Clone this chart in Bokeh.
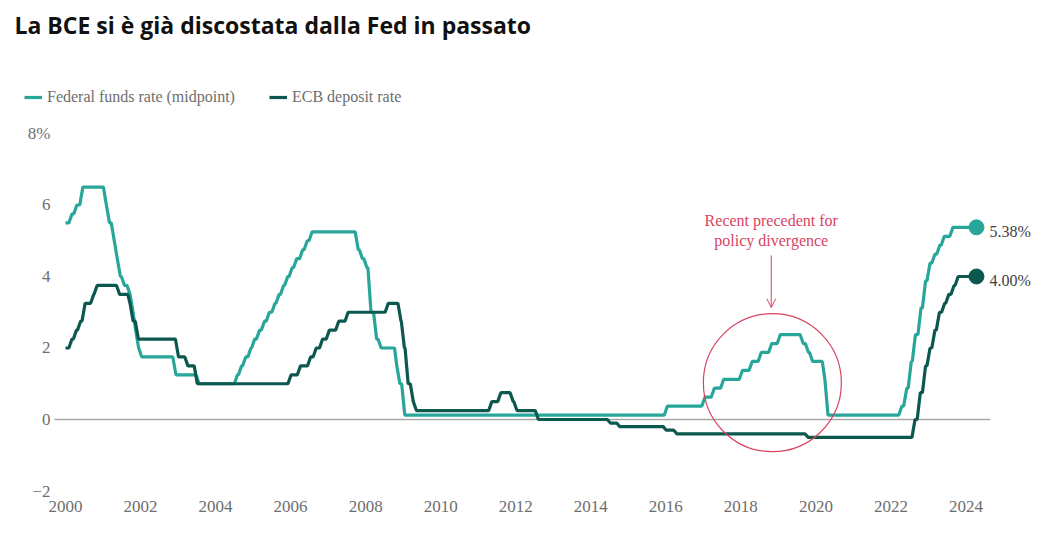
from bokeh.plotting import figure
from bokeh.models import (Range1d, FixedTicker, Label, Legend, LegendItem,
                          Arrow, OpenHead)
from bokeh.embed import file_html
from bokeh.resources import INLINE

# ---------------- data ----------------
title_text = "La BCE si è già discostata dalla Fed in passato"
fed_label = "Federal funds rate (midpoint)"
ecb_label = "ECB deposit rate"

# dates (decimal years) at which each level takes effect
fed_dates = [2000.00, 2000.09, 2000.22, 2000.38, 2001.01, 2001.09, 2001.22, 2001.30,
             2001.38, 2001.49, 2001.64, 2001.72, 2001.80, 2001.87, 2001.95, 2002.86,
             2003.48, 2004.50, 2004.61, 2004.72, 2004.86, 2004.96, 2005.09, 2005.22,
             2005.35, 2005.50, 2005.61, 2005.73, 2005.84, 2005.96, 2006.08, 2006.24,
             2006.36, 2006.49, 2007.72, 2007.83, 2007.95, 2008.06, 2008.21, 2008.33,
             2008.77, 2008.83, 2008.96, 2015.96, 2016.96, 2017.21, 2017.46, 2017.96,
             2018.22, 2018.46, 2018.74, 2018.97, 2019.58, 2019.72, 2019.83, 2020.17,
             2020.24, 2022.21, 2022.34, 2022.46, 2022.57, 2022.72, 2022.84, 2022.96,
             2023.09, 2023.22, 2023.34, 2023.57]
fed_rates = [5.5, 5.75, 6.0, 6.5, 6.0, 5.5, 5.0, 4.5,
             4.0, 3.75, 3.5, 3.0, 2.5, 2.0, 1.75, 1.25,
             1.0, 1.25, 1.5, 1.75, 2.0, 2.25, 2.5, 2.75,
             3.0, 3.25, 3.5, 3.75, 4.0, 4.25, 4.5, 4.75,
             5.0, 5.25, 4.75, 4.5, 4.25, 3.0, 2.25, 2.0,
             1.5, 1.0, 0.125, 0.375, 0.625, 0.875, 1.125, 1.375,
             1.625, 1.875, 2.125, 2.375, 2.125, 1.875, 1.625, 1.125,
             0.125, 0.375, 0.875, 1.625, 2.375, 3.125, 3.875, 4.375,
             4.625, 4.875, 5.125, 5.375]

ecb_dates = [2000.00, 2000.09, 2000.21, 2000.32, 2000.44, 2000.67, 2000.76, 2001.36,
             2001.66, 2001.72, 2001.86, 2002.93, 2003.18, 2003.43, 2005.93, 2006.18,
             2006.45, 2006.60, 2006.77, 2006.95, 2007.20, 2007.45, 2008.52, 2008.86,
             2008.95, 2009.05, 2009.19, 2009.27, 2011.28, 2011.52, 2011.85, 2011.95,
             2012.52, 2014.44, 2014.69, 2015.93, 2016.21, 2019.71, 2022.56, 2022.70,
             2022.84, 2022.96, 2023.09, 2023.21, 2023.35, 2023.46, 2023.60, 2023.71]
ecb_rates = [2.0, 2.25, 2.5, 2.75, 3.25, 3.5, 3.75, 3.5,
             3.25, 2.75, 2.25, 1.75, 1.5, 1.0, 1.25, 1.5,
             1.75, 2.0, 2.25, 2.5, 2.75, 3.0, 3.25, 2.75,
             2.0, 1.0, 0.5, 0.25, 0.5, 0.75, 0.5, 0.25,
             0.0, -0.1, -0.2, -0.3, -0.4, -0.5, 0.0, 0.75,
             1.5, 2.0, 2.5, 3.0, 3.25, 3.5, 3.75, 4.0]

last_date = 2024.28
end_labels = ["5.38%", "4.00%"]

x_ticks = [2000, 2002, 2004, 2006, 2008, 2010, 2012, 2014, 2016, 2018, 2020, 2022, 2024]
y_ticks = [-2, 0, 2, 4, 6, 8]
y_tick_text = {8: "8%", -2: "\u22122"}

note_lines = ["Recent precedent for", "policy divergence"]
note_x = 2018.81
note_y = [5.57, 5.01]
arrow_y = [4.59, 3.13]
circle_x = 2018.84
circle_y = 1.03

# ---------------- style ----------------
FED = "#27a699"
ECB = "#0c584e"
NOTE = "#d8445f"
GREY = "#6e6e6e"
SERIF = "Liberation Serif"
X_START, X_END = 1998.2676, 2026.413      # whole canvas width
AXIS_START, AXIS_END = 1999.707, 2024.65  # visible plotting area (x)
AXIS_BOTTOM = -2.042                      # visible plotting area (y)
Y_START, Y_END = -3.2727, 11.72           # whole canvas height
H = 536


def level_path(dates, rates, end, ramp=0.083):
    xs, ys = [dates[0]], [rates[0]]
    for i in range(1, len(dates)):
        nxt = dates[i + 1] if i + 1 < len(dates) else end
        r = min(ramp, nxt - dates[i])
        xs += [dates[i], dates[i] + r]
        ys += [rates[i - 1], rates[i]]
    xs.append(end)
    ys.append(rates[-1])
    return xs, ys


p = figure(width=1056, height=H,
           x_range=Range1d(X_START, X_END), y_range=Range1d(Y_START, Y_END),
           output_backend="svg", toolbar_location=None,
           min_border_left=0, min_border_right=0, min_border_top=0,
           min_border_bottom=0)
p.outline_line_color = None
p.grid.visible = False
p.background_fill_color = "white"

for ax in (p.xaxis[0], p.yaxis[0]):
    ax.axis_line_color = None
    ax.major_tick_line_color = None
    ax.minor_tick_line_color = None
    ax.major_tick_out = 0
    ax.major_tick_in = 0
    ax.minor_tick_out = 0
    ax.minor_tick_in = 0
    ax.major_label_text_font = SERIF
    ax.major_label_text_font_size = "17px"
    ax.major_label_text_color = GREY

p.xaxis.ticker = FixedTicker(ticks=x_ticks)
p.xaxis.major_label_standoff = 8
p.xaxis.fixed_location = AXIS_BOTTOM
p.yaxis.ticker = FixedTicker(ticks=y_ticks)
p.yaxis.major_label_overrides = y_tick_text
p.yaxis.major_label_standoff = 4
p.yaxis.fixed_location = AXIS_START

# zero reference line
p.segment(x0=[AXIS_START], y0=[0], x1=[AXIS_END], y1=[0], line_color="#a8a8a8", line_width=1.3)

fx, fy = level_path(fed_dates, fed_rates, last_date)
ex, ey = level_path(ecb_dates, ecb_rates, last_date)
r_fed = p.line(fx, fy, line_color=FED, line_width=3.2)
r_ecb = p.line(ex, ey, line_color=ECB, line_width=3.2)
p.scatter([last_date], [fed_rates[-1]], size=15, color=FED)
p.scatter([last_date], [ecb_rates[-1]], size=15, color=ECB)

for val, txt in zip([fed_rates[-1], ecb_rates[-1]], end_labels):
    p.add_layout(Label(x=last_date, y=val, text=txt, x_offset=13, y_offset=-4,
                       text_baseline="middle", text_font=SERIF,
                       text_font_size="16px", text_color="#404040"))

# annotation
for ty, txt in zip(note_y, note_lines):
    p.add_layout(Label(x=note_x, y=ty, text=txt, text_align="center",
                       text_baseline="middle", text_font=SERIF,
                       text_font_size="16px", text_color=NOTE))
p.add_layout(Arrow(end=OpenHead(size=9, line_color=NOTE, line_width=1),
                   x_start=note_x, y_start=arrow_y[0], x_end=note_x, y_end=arrow_y[1],
                   line_color=NOTE, line_width=1))
p.circle(x=[circle_x], y=[circle_y], radius=69, radius_units="screen",
         fill_alpha=0, line_color=NOTE, line_width=1.2)

legend = Legend(items=[LegendItem(label=fed_label, renderers=[r_fed]),
                       LegendItem(label=ecb_label, renderers=[r_ecb])],
                location=(24, H - 107), orientation="horizontal",
                glyph_width=18, glyph_height=20, label_standoff=5, spacing=34,
                padding=0, margin=0, background_fill_alpha=0, border_line_alpha=0,
                label_text_font=SERIF, label_text_font_size="16px",
                label_text_color=GREY)
p.add_layout(legend)

p.add_layout(Label(x=14, y=H - 24, x_units="screen", y_units="screen",
                   text=title_text, text_font="Open Sans", text_font_style="bold",
                   text_baseline="alphabetic",
                   text_font_size="23px", text_color="#111111"))

open("out.html", "w").write(file_html(p, INLINE))
